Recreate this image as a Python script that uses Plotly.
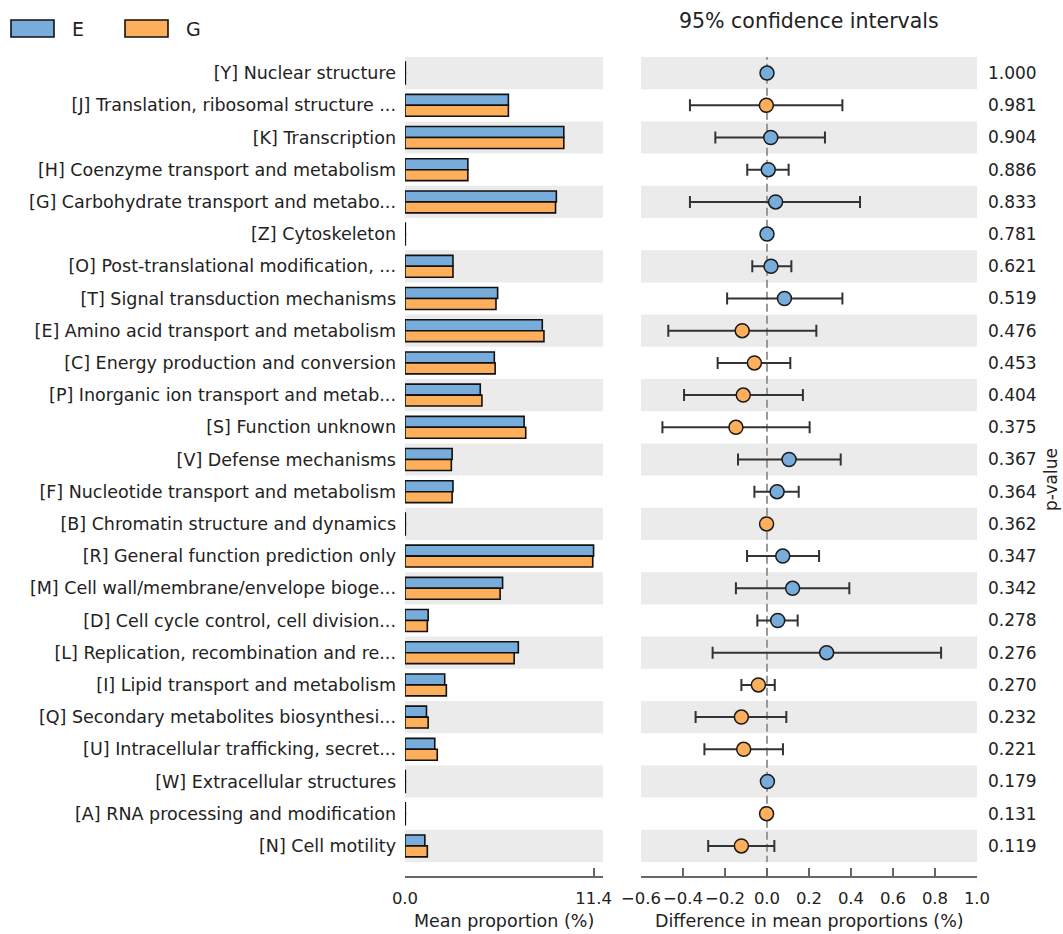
import plotly.graph_objects as go

# ---------------- data ----------------
categories = [
    "[Y] Nuclear structure",
    "[J] Translation, ribosomal structure ...",
    "[K] Transcription",
    "[H] Coenzyme transport and metabolism",
    "[G] Carbohydrate transport and metabo...",
    "[Z] Cytoskeleton",
    "[O] Post-translational modification, ...",
    "[T] Signal transduction mechanisms",
    "[E] Amino acid transport and metabolism",
    "[C] Energy production and conversion",
    "[P] Inorganic ion transport and metab...",
    "[S] Function unknown",
    "[V] Defense mechanisms",
    "[F] Nucleotide transport and metabolism",
    "[B] Chromatin structure and dynamics",
    "[R] General function prediction only",
    "[M] Cell wall/membrane/envelope bioge...",
    "[D] Cell cycle control, cell division...",
    "[L] Replication, recombination and re...",
    "[I] Lipid transport and metabolism",
    "[Q] Secondary metabolites biosynthesi...",
    "[U] Intracellular trafficking, secret...",
    "[W] Extracellular structures",
    "[A] RNA processing and modification",
    "[N] Cell motility",
]
mean_E = [0.02, 6.25, 9.6, 3.8, 9.15, 0.02, 2.9, 5.6, 8.3, 5.4, 4.55, 7.2, 2.85, 2.9,
          0.02, 11.4, 5.9, 1.4, 6.85, 2.4, 1.3, 1.8, 0.02, 0.02, 1.2]
mean_G = [0.02, 6.25, 9.6, 3.8, 9.1, 0.02, 2.9, 5.5, 8.4, 5.45, 4.65, 7.3, 2.8, 2.85,
          0.02, 11.35, 5.75, 1.35, 6.6, 2.5, 1.4, 1.95, 0.02, 0.02, 1.35]
diff = [0.0, -0.003, 0.018, 0.006, 0.041, 0.0, 0.019, 0.083, -0.118, -0.06, -0.113, -0.148,
        0.105, 0.048, -0.002, 0.075, 0.122, 0.051, 0.284, -0.041, -0.122, -0.111, 0.002,
        -0.002, -0.122]
ci_low = [0.0, -0.367, -0.246, -0.094, -0.367, 0.0, -0.07, -0.19, -0.47, -0.235, -0.395,
          -0.498, -0.138, -0.06, -0.002, -0.095, -0.148, -0.046, -0.259, -0.122, -0.34,
          -0.298, 0.002, -0.002, -0.28]
ci_high = [0.0, 0.359, 0.276, 0.103, 0.443, 0.0, 0.116, 0.359, 0.235, 0.111, 0.171, 0.203,
           0.351, 0.151, -0.002, 0.248, 0.392, 0.146, 0.829, 0.037, 0.092, 0.076, 0.002,
           -0.002, 0.035]
higher_group = ["E", "G", "E", "E", "E", "E", "E", "E", "G", "G", "G", "G", "E", "E", "G",
                "E", "E", "E", "E", "G", "G", "G", "E", "G", "G"]
p_values = ["1.000", "0.981", "0.904", "0.886", "0.833", "0.781", "0.621", "0.519", "0.476",
            "0.453", "0.404", "0.375", "0.367", "0.364", "0.362", "0.347", "0.342", "0.278",
            "0.276", "0.270", "0.232", "0.221", "0.179", "0.131", "0.119"]
groups = ["E", "G"]
bar_ticks = [0.0, 11.4]

# ---------------- style ----------------
W, H = 1063, 934
COL = {"E": "#78ACDA", "G": "#FDAF5C"}
BAND = "#EBEBEB"
FONT = "DejaVu Sans"
TXT = "#222222"
AX = "#666666"

def px_x(p):
    return p / W

def px_y(p):
    return 1 - p / H

rows = list(range(len(categories)))
n = len(rows)

fig = go.Figure()
for g, vals in zip(groups, [mean_E, mean_G]):
    fig.add_trace(go.Bar(
        y=rows, x=vals, orientation="h", name=g, xaxis="x", yaxis="y",
        marker=dict(color=COL[g], line=dict(color="#111111", width=1.6)),
        showlegend=False,
    ))

err_plus = [h - d for h, d in zip(ci_high, diff)]
err_minus = [d - l for d, l in zip(diff, ci_low)]
fig.add_trace(go.Scatter(
    x=diff, y=rows, mode="markers", xaxis="x2", yaxis="y2",
    marker=dict(size=14, color=[COL[g] for g in higher_group],
                line=dict(color="#1a1a1a", width=1.5)),
    error_x=dict(type="data", symmetric=False, array=err_plus, arrayminus=err_minus,
                 color="#333333", thickness=2, width=6),
    showlegend=False,
))

# background bands
shapes = []
for i in rows:
    if i % 2 == 0:
        for xr in ["x domain", "x2 domain"]:
            shapes.append(dict(type="rect", xref=xr, yref="y", x0=0, x1=1,
                               y0=i - 0.5, y1=i + 0.5, fillcolor=BAND,
                               line=dict(width=0), layer="below"))
# zero line in CI panel
shapes.append(dict(type="line", xref="x2", yref="y2", x0=0, x1=0, y0=-0.66, y1=n - 0.4,
                   line=dict(color="#999999", width=2, dash="8px,4px"), layer="below"))
# legend boxes
legend_x = [11, 125]
for g, lx in zip(groups, legend_x):
    shapes.append(dict(type="rect", xref="paper", yref="paper",
                       x0=px_x(lx), x1=px_x(lx + 43), y0=px_y(37), y1=px_y(20),
                       fillcolor=COL[g], line=dict(color="#111111", width=1.6)))

annotations = []
for g, lx in zip(groups, legend_x):
    annotations.append(dict(xref="paper", yref="paper", x=px_x(lx + 59), y=px_y(29),
                            text=g, showarrow=False, xanchor="left", yanchor="middle",
                            font=dict(family=FONT, size=19, color=TXT)))
annotations += [
    dict(xref="paper", yref="paper", x=px_x(809), y=px_y(21), text="95% confidence intervals",
         showarrow=False, xanchor="center", yanchor="middle",
         font=dict(family=FONT, size=20.5, color=TXT)),
    dict(xref="paper", yref="paper", x=px_x(504), y=px_y(921), text="Mean proportion (%)",
         showarrow=False, xanchor="center", yanchor="middle",
         font=dict(family=FONT, size=17.5, color=TXT)),
    dict(xref="paper", yref="paper", x=px_x(809), y=px_y(921),
         text="Difference in mean proportions (%)",
         showarrow=False, xanchor="center", yanchor="middle",
         font=dict(family=FONT, size=17.5, color=TXT)),
    dict(xref="paper", yref="paper", x=px_x(1051), y=px_y(480), text="p-value",
         showarrow=False, xanchor="center", yanchor="middle", textangle=-90,
         font=dict(family=FONT, size=17, color=TXT)),
]

ydom = [px_y(862), px_y(57)]
xaxis_common = dict(anchor="free", position=px_y(877), showline=True, linecolor=AX,
                    linewidth=1.5, ticks="inside", ticklen=8, tickwidth=1.5,
                    tickcolor=AX, showgrid=False, zeroline=False, ticklabelstandoff=6,
                    tickangle=0, tickfont=dict(family=FONT, size=16.5, color=TXT))

fig.update_layout(
    width=W, height=H, margin=dict(l=0, r=0, t=0, b=0, autoexpand=False),
    paper_bgcolor="white", plot_bgcolor="white",
    barmode="group", bargap=0.32, bargroupgap=0,
    font=dict(family=FONT, color=TXT),
    xaxis=dict(domain=[px_x(405), px_x(603)], range=[0, 11.97],
               tickvals=bar_ticks, ticktext=[f"{v:.1f}" for v in bar_ticks],
               **xaxis_common),
    xaxis2=dict(domain=[px_x(641), px_x(977)], range=[-0.6, 1.0], tick0=-0.6, dtick=0.2,
                tickformat=".1f", **xaxis_common),
    yaxis=dict(domain=ydom, anchor="x", range=[n - 0.5, -0.5], tickvals=rows,
               ticktext=categories, ticks="", showgrid=False, zeroline=False,
               showline=False, ticklabelstandoff=8,
               tickfont=dict(family=FONT, size=17.5, color=TXT)),
    yaxis2=dict(domain=ydom, anchor="x2", side="right", range=[n - 0.5, -0.5],
                tickvals=rows, ticktext=p_values, ticks="", showgrid=False,
                zeroline=False, showline=False, ticklabelstandoff=10,
                tickfont=dict(family=FONT, size=17, color=TXT)),
    shapes=shapes, annotations=annotations,
)

fig.write_html("out.html")
